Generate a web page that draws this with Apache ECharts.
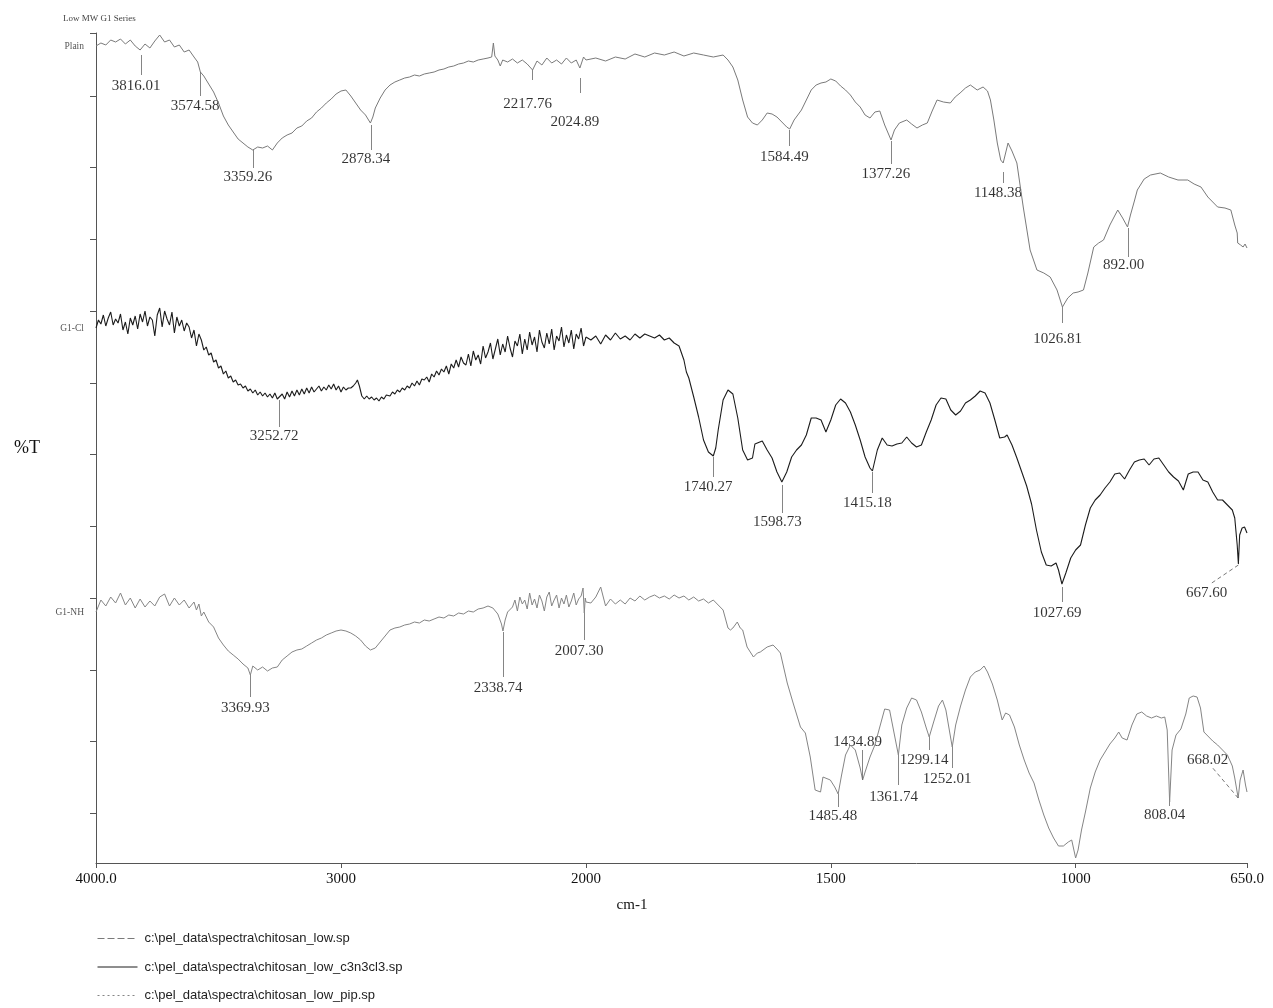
<!DOCTYPE html>
<html><head><meta charset="utf-8">
<script src="https://cdn.jsdelivr.net/npm/echarts@6/dist/echarts.min.js"></script>
<style>html,body{margin:0;padding:0;background:#fff}#c{width:1273px;height:1008px}</style>
</head><body><div id="c"></div>
<script>
const seriesNames = ['c:\\pel_data\\spectra\\chitosan_low.sp', 'c:\\pel_data\\spectra\\chitosan_low_c3n3cl3.sp', 'c:\\pel_data\\spectra\\chitosan_low_pip.sp'];
const seriesTags = ['Plain', 'G1-Cl', 'G1-NH'];
const xTickValues = [4000, 3000, 2000, 1500, 1000, 650];
const xTickLabels = ['4000.0', '3000', '2000', '1500', '1000', '650.0'];
const yTickValues = [50, 122, 193, 265, 337, 409, 480, 552, 624, 696, 767, 830];

// [wavenumber cm-1, %T (arbitrary offset units)]
const plainData = [[4000,817],[3980,820],[3960,818],[3940,823],[3920,821],[3900,824],[3880,819],[3860,823],[3840,817],[3820,813],[3810,816],[3800,819],[3780,815],[3760,822],[3740,828],[3720,821],[3700,823],[3680,816],[3660,818],[3640,811],[3620,813],[3600,806],[3585,801],[3574,791],[3560,787],[3540,779],[3520,771],[3500,760],[3480,747],[3460,738],[3440,731],[3420,724],[3400,720],[3380,716],[3360,713],[3340,716],[3320,715],[3300,717],[3280,713],[3260,720],[3240,725],[3220,728],[3200,730],[3180,735],[3160,737],[3140,742],[3120,745],[3100,751],[3080,755],[3060,760],[3040,764],[3020,769],[3000,772],[2980,773],[2960,767],[2940,760],[2920,753],[2900,748],[2880,740],[2870,746],[2860,755],[2840,765],[2820,773],[2800,778],[2780,781],[2760,783],[2740,785],[2720,786],[2700,788],[2680,787],[2660,789],[2640,790],[2620,791],[2600,793],[2580,794],[2560,796],[2540,797],[2520,799],[2500,800],[2480,802],[2460,801],[2440,803],[2420,804],[2400,805],[2385,806],[2378,820],[2372,807],[2360,803],[2350,797],[2340,803],[2320,801],[2300,804],[2280,800],[2260,803],[2240,799],[2218,793],[2200,802],[2180,798],[2160,805],[2140,800],[2120,803],[2100,799],[2080,805],[2060,800],[2040,803],[2025,795],[2010,806],[2000,803],
[1980,805],[1960,802],[1940,806],[1920,804],[1900,809],[1880,806],[1860,810],[1840,808],[1820,811],[1800,807],[1780,810],[1760,808],[1740,806],[1720,808],[1710,803],[1700,796],[1690,783],[1680,763],[1670,746],[1660,740],[1650,738],[1640,743],[1630,750],[1620,749],[1610,746],[1600,741],[1590,736],[1584,734],[1575,743],[1560,753],[1550,763],[1540,773],[1530,778],[1520,780],[1510,781],[1500,784],[1490,782],[1480,777],[1470,773],[1460,768],[1450,761],[1440,756],[1430,748],[1420,745],[1410,751],[1400,752],[1390,738],[1377,723],[1370,733],[1360,740],[1345,743],[1335,739],[1324,735],[1313,738],[1303,740],[1293,752],[1283,763],[1270,761],[1256,760],[1246,766],[1236,770],[1225,775],[1215,778],[1201,773],[1189,776],[1180,772],[1174,763],[1167,743],[1160,720],[1153,703],[1148,700],[1143,710],[1138,720],[1130,712],[1120,700],[1107,656],[1093,613],[1079,593],[1065,590],[1052,586],[1038,573],[1027,556],[1016,565],[1005,570],[995,571],[984,573],[975,590],[963,616],[953,620],[943,623],[930,638],[914,653],[904,645],[894,636],[888,648],[880,662],[874,673],[860,684],[847,688],[827,690],[810,686],[791,683],[771,683],[758,679],[744,676],[730,666],[718,660],[710,656],[695,655],[683,653],[675,638],[670,630],[669,620],[663,618],[658,616],[654,619],[650,615]];

const clData = [[4000,535],[3990,543],[3980,539],[3970,548],[3960,537],[3950,545],[3940,551],[3930,538],[3920,544],[3910,540],[3900,549],[3890,533],[3880,541],[3870,529],[3860,545],[3850,538],[3840,547],[3830,534],[3820,549],[3810,541],[3800,552],[3790,537],[3780,546],[3770,543],[3760,527],[3750,548],[3740,555],[3730,536],[3720,552],[3710,544],[3700,538],[3690,551],[3680,530],[3670,546],[3660,537],[3650,543],[3640,532],[3630,540],[3620,536],[3610,525],[3600,533],[3590,517],[3580,529],[3570,523],[3560,513],[3550,516],[3540,508],[3530,510],[3520,501],[3510,503],[3500,495],[3490,497],[3480,489],[3470,492],[3460,485],[3450,487],[3440,481],[3430,483],[3420,478],[3410,479],[3400,475],[3390,477],[3380,472],[3370,474],[3360,470],[3350,473],[3340,468],[3330,471],[3320,467],[3310,470],[3300,466],[3290,469],[3280,465],[3270,470],[3260,464],[3252,462],[3240,469],[3230,464],[3220,471],[3210,466],[3200,472],[3190,467],[3180,473],[3170,468],[3160,474],[3150,469],[3140,475],[3130,470],[3120,476],[3110,471],[3100,474],[3090,477],[3080,472],[3070,476],[3060,473],[3050,478],[3040,474],[3030,479],[3020,473],[3010,477],[3000,471],[2990,476],[2980,473],[2970,475],[2960,475],[2950,477],[2940,480],[2933,483],[2925,477],[2915,467],[2905,464],[2895,467],[2885,464],[2875,466],[2865,463],[2855,465],[2845,462],[2835,466],[2825,464],[2815,468],[2800,467],[2790,471],[2780,469],[2770,473],[2760,471],[2750,475],[2740,473],[2730,477],[2720,475],[2710,480],[2700,477],[2690,482],[2680,478],[2670,484],[2660,483],[2650,486],[2640,481],[2630,489],[2620,486],[2610,492],[2600,488],[2590,494],[2580,491],[2570,497],[2560,489],[2550,499],[2540,495],[2530,503],[2520,496],[2510,506],[2500,500],[2490,498],[2480,509],[2470,497],[2460,512],[2450,503],[2440,508],[2430,499],[2420,517],[2410,505],[2400,511],[2390,520],[2380,504],[2370,514],[2360,524],[2350,508],[2340,519],[2330,511],[2320,527],[2310,515],[2300,506],[2290,522],[2280,517],[2270,529],[2260,509],[2250,524],[2240,513],[2230,531],[2220,518],[2210,526],[2200,511],[2190,533],[2180,521],[2170,515],[2160,530],[2150,519],[2140,534],[2130,513],[2120,527],[2110,522],[2100,536],[2090,516],[2080,528],[2070,520],[2060,533],[2050,514],[2040,529],[2030,524],[2020,535],[2010,517],[2000,526],
[1990,523],[1980,527],[1970,519],[1960,528],[1950,523],[1940,530],[1930,524],[1920,527],[1910,523],[1900,529],[1890,525],[1880,529],[1870,527],[1860,525],[1850,528],[1840,523],[1830,525],[1820,520],[1810,517],[1800,503],[1795,491],[1790,485],[1780,466],[1770,446],[1760,423],[1750,411],[1740,407],[1735,415],[1730,433],[1720,463],[1710,473],[1700,469],[1690,445],[1680,413],[1670,403],[1660,405],[1655,419],[1650,420],[1640,422],[1630,413],[1620,405],[1610,391],[1600,381],[1590,391],[1580,406],[1570,413],[1560,418],[1550,428],[1540,445],[1530,445],[1520,443],[1510,431],[1500,443],[1490,458],[1480,464],[1470,460],[1460,451],[1450,438],[1440,423],[1430,406],[1420,395],[1415,392],[1405,413],[1395,425],[1385,418],[1375,417],[1365,419],[1355,420],[1345,426],[1335,420],[1325,416],[1315,418],[1305,431],[1295,443],[1285,458],[1275,465],[1265,464],[1255,453],[1245,448],[1235,452],[1225,460],[1215,463],[1205,467],[1195,472],[1185,470],[1175,460],[1165,443],[1155,425],[1145,426],[1140,428],[1130,418],[1120,405],[1110,391],[1100,377],[1090,359],[1080,333],[1070,311],[1060,298],[1050,297],[1040,300],[1035,293],[1028,279],[1020,290],[1010,305],[1000,313],[990,318],[980,338],[970,355],[960,363],[950,368],[940,375],[930,381],[920,389],[910,390],[900,384],[890,393],[880,401],[870,403],[860,404],[850,398],[840,404],[830,405],[820,398],[810,391],[800,386],[790,382],[780,373],[770,389],[760,391],[750,391],[740,383],[730,381],[720,371],[710,363],[700,363],[690,358],[680,353],[675,345],[670,318],[667.6,299],[665,328],[660,335],[655,336],[650,330]];

const nhData = [[4000,251],[3980,263],[3960,257],[3940,266],[3920,260],[3900,270],[3880,258],[3860,265],[3840,255],[3820,264],[3800,256],[3780,262],[3760,257],[3740,266],[3720,269],[3700,257],[3680,265],[3660,258],[3640,263],[3620,255],[3600,261],[3590,253],[3580,259],[3570,247],[3560,251],[3540,241],[3520,236],[3500,225],[3480,218],[3460,212],[3440,208],[3420,204],[3400,199],[3380,195],[3370,188],[3360,197],[3340,193],[3320,196],[3300,192],[3280,195],[3260,196],[3240,203],[3220,207],[3200,211],[3180,213],[3160,214],[3140,217],[3120,220],[3100,223],[3080,225],[3060,228],[3040,230],[3020,232],[3000,233],[2980,232],[2960,230],[2940,227],[2920,223],[2900,217],[2880,213],[2860,215],[2840,221],[2820,227],[2800,233],[2780,235],[2760,236],[2740,238],[2720,239],[2700,241],[2680,240],[2660,243],[2640,242],[2620,244],[2600,246],[2580,245],[2560,248],[2540,247],[2520,250],[2500,249],[2480,252],[2460,251],[2440,254],[2420,255],[2400,257],[2380,255],[2360,249],[2345,239],[2339,232],[2330,243],[2320,251],[2300,256],[2290,263],[2280,252],[2270,266],[2260,259],[2250,263],[2240,254],[2230,270],[2220,258],[2210,264],[2200,255],[2190,268],[2180,262],[2170,252],[2160,266],[2150,271],[2140,257],[2130,263],[2120,268],[2110,255],[2100,265],[2090,259],[2080,268],[2070,256],[2060,262],[2050,270],[2040,258],[2030,264],[2020,267],[2012,275],[2007,250],[2003,265],[2000,261],
[1990,260],[1980,266],[1970,276],[1960,257],[1950,264],[1940,259],[1930,263],[1920,259],[1910,265],[1900,262],[1890,267],[1880,263],[1870,266],[1860,268],[1850,265],[1840,267],[1830,264],[1820,268],[1810,265],[1800,267],[1790,263],[1780,266],[1770,262],[1760,264],[1750,260],[1740,263],[1730,258],[1720,253],[1710,235],[1705,233],[1700,235],[1691,241],[1685,235],[1680,233],[1671,216],[1658,206],[1650,210],[1644,211],[1630,216],[1618,218],[1610,214],[1603,210],[1589,180],[1577,160],[1562,136],[1552,130],[1542,106],[1532,73],[1521,71],[1516,86],[1501,83],[1492,76],[1485,69],[1478,88],[1470,108],[1460,118],[1450,113],[1440,95],[1435,83],[1430,91],[1420,106],[1410,118],[1400,136],[1390,154],[1380,153],[1370,128],[1362,108],[1355,138],[1345,155],[1335,165],[1325,163],[1315,151],[1305,135],[1299,126],[1290,141],[1280,157],[1272,163],[1265,153],[1258,133],[1252,116],[1245,138],[1235,157],[1225,173],[1215,186],[1205,191],[1195,193],[1187,197],[1180,191],[1170,179],[1160,163],[1150,143],[1143,150],[1135,148],[1125,136],[1115,118],[1105,103],[1095,90],[1085,80],[1075,63],[1065,48],[1055,35],[1045,25],[1035,17],[1025,17],[1015,21],[1008,23],[1000,5],[995,13],[988,33],[980,51],[970,75],[960,91],[950,103],[940,111],[930,119],[920,125],[912,131],[905,125],[895,123],[885,138],[875,149],[865,151],[855,147],[845,145],[835,147],[825,145],[818,146],[813,133],[808,61],[803,113],[795,128],[785,134],[775,149],[768,165],[760,167],[752,166],[745,155],[738,131],[730,127],[720,122],[710,118],[700,113],[690,108],[680,97],[675,85],[668,65],[664,83],[658,93],[653,78],[650,71]];

// peak picks: wavenumber, marker line [from %T, to %T, (end wavenumber if slanted)], label %T
const plainPeaks = [3816.01, 3574.58, 3359.26, 2878.34, 2217.76, 2024.89, 1584.49, 1377.26, 1148.38, 1026.81, 892.00];
const plainPeakLines = [[808,788],[791,767],[713,695],[738,713],[793,783],[785,770],[733,717],[722,699],[691,680],[556,540],[635,606]];
const plainPeakLabels = [777, 757, 686, 704, 759, 741, 706, 689, 670, 524, 598];

const clPeaks = [3252.72, 1740.27, 1598.73, 1415.18, 1027.69, 667.60];
const clPeakLines = [[463,436],[406,386],[378,350],[391,370],[276,261],[298,280,722]];
const clPeakLabels = [427, 376, 341, 360, 250, 270];

const nhPeaks = [3369.93, 2338.74, 2007.30, 1485.48, 1434.89, 1361.74, 1299.14, 1252.01, 808.04, 668.02];
const nhPeakLines = [[188,166],[231,186],[250,223],[69,56],[83,113],[108,78],[126,113],[116,95],[61,57],[65,95,720]];
const nhPeakLabels = [155, 175, 212, 47, 121, 66, 103, 84, 48, 103];

const spectra = [
  {name: seriesNames[0], data: plainData, peaks: plainPeaks, lines: plainPeakLines, labels: plainPeakLabels, color: '#7a7a7a', width: 1, legendType: [7, 3]},
  {name: seriesNames[1], data: clData, peaks: clPeaks, lines: clPeakLines, labels: clPeakLabels, color: '#1c1c1c', width: 1.1, legendType: 'solid'},
  {name: seriesNames[2], data: nhData, peaks: nhPeaks, lines: nhPeakLines, labels: nhPeakLabels, color: '#858585', width: 1, legendType: [2, 3]}
];
const tagValues = spectra.map(s => s.data[0][1]);

const serifFont = '"Liberation Serif", "DejaVu Serif", serif';
const series = [];
spectra.forEach((s) => {
  [0, 1].forEach((g) => {
    const inGrid = (w) => (g === 0 ? w >= 2000 : w <= 2000);
    const pts = s.data.filter(p => inGrid(p[0]));
    const ml = [];
    const lbl = [];
    s.peaks.forEach((w, i) => {
      if (!inGrid(w)) return;
      const ln = s.lines[i];
      const slanted = ln.length > 2;
      const w2 = slanted ? ln[2] : w;
      const start = {coord: [w, ln[0]]};
      if (slanted) start.lineStyle = {type: [4, 3], color: '#555'};
      ml.push([start, {coord: [w2, ln[1]]}]);
      lbl.push({value: [w2, s.labels[i]], name: w.toFixed(2)});
    });
    series.push({
      type: 'line', name: s.name, xAxisIndex: g, yAxisIndex: g, data: pts,
      symbol: 'none', clip: true,
      lineStyle: {color: s.color, width: s.width},
      itemStyle: {color: s.color},
      markLine: {symbol: 'none', silent: true, animation: false, label: {show: false},
        lineStyle: {color: '#666', width: 0.8, type: 'solid'}, data: ml}
    });
    series.push({
      type: 'scatter', name: s.name + ' peaks', xAxisIndex: g, yAxisIndex: g,
      symbolSize: 0, silent: true, data: lbl,
      itemStyle: {color: 'transparent'},
      label: {show: true, position: 'inside', offset: [-5, 0], formatter: '{b}',
        color: '#000', fontSize: 15, fontFamily: serifFont}
    });
  });
});

const xFmt = (v) => { const i = xTickValues.indexOf(v); return i >= 0 ? xTickLabels[i] : ''; };
const axisColor = '#555';
const chart = echarts.init(document.getElementById('c'));
chart.setOption({
  animation: false,
  backgroundColor: '#fff',
  title: {text: 'Low MW G1 Series', left: 58, top: 9,
    textStyle: {fontSize: 9, fontWeight: 'normal', fontFamily: serifFont, color: '#444'}},
  legend: {
    orient: 'vertical', left: 97, top: 932, padding: 0, itemWidth: 40, itemHeight: 14, itemGap: 15.5,
    data: spectra.map(s => ({name: s.name, itemStyle: {opacity: 0}, lineStyle: {type: s.legendType, color: s.color, width: 1}})),
    textStyle: {fontSize: 13, fontFamily: '"Liberation Sans", Arial, sans-serif', color: '#222', padding: [0, 0, 0, 2]},
    selectedMode: false
  },
  grid: [
    {left: 96, top: 33, width: 490, height: 830},
    {left: 586, top: 33, width: 661, height: 830}
  ],
  xAxis: [
    {type: 'value', gridIndex: 0, min: 2000, max: 4000, inverse: true,
      axisLine: {lineStyle: {color: axisColor, width: 1}},
      axisTick: {customValues: xTickValues.filter(v => v >= 2000), length: 5, lineStyle: {color: axisColor}},
      axisLabel: {customValues: xTickValues.filter(v => v >= 2000), formatter: xFmt, margin: 9,
        fontSize: 15, fontFamily: serifFont, color: '#111'},
      splitLine: {show: false},
      name: 'cm-1', nameLocation: 'middle', nameGap: 35,
      nameTextStyle: {fontSize: 15, fontFamily: serifFont, color: '#111', padding: [0, 0, 0, 582]}},
    {type: 'value', gridIndex: 1, min: 650, max: 2000, inverse: true,
      axisLine: {lineStyle: {color: axisColor, width: 1}},
      axisTick: {customValues: xTickValues.filter(v => v < 2000), length: 5, lineStyle: {color: axisColor}},
      axisLabel: {customValues: xTickValues.filter(v => v < 2000), formatter: xFmt, margin: 9,
        fontSize: 15, fontFamily: serifFont, color: '#111'},
      splitLine: {show: false}}
  ],
  yAxis: [
    {type: 'value', gridIndex: 0, min: 0, max: 830,
      axisLine: {show: true, lineStyle: {color: axisColor, width: 1}},
      axisTick: {show: true, customValues: yTickValues, length: 6, lineStyle: {color: axisColor}},
      axisLabel: {customValues: tagValues, formatter: (v) => { const i = tagValues.indexOf(v); return i >= 0 ? seriesTags[i] : ''; },
        margin: 12, fontSize: 9.5, fontFamily: serifFont, color: '#555'},
      splitLine: {show: false},
      name: '%T', nameLocation: 'middle', nameRotate: 0, nameGap: 56,
      nameTextStyle: {fontSize: 18, fontFamily: serifFont, color: '#111'}},
    {type: 'value', gridIndex: 1, min: 0, max: 830, show: false, splitLine: {show: false}}
  ],
  series: series
});
</script>
</body></html>
